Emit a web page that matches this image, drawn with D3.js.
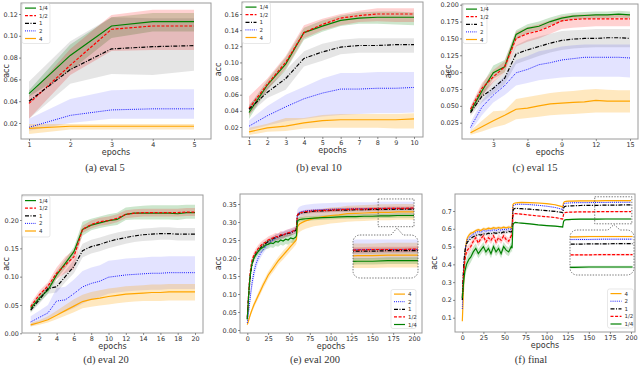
<!DOCTYPE html>
<html>
<head>
<meta charset="utf-8">
<script src="https://cdn.jsdelivr.net/npm/d3@7"></script>
<style>
body { margin: 0; background: #fff; }
svg text { font-family: "DejaVu Sans", sans-serif; fill: #333; }
</style>
</head>
<body>
<script>
// series order everywhere: 1/4, 1/2, 1, 2, 4
const names = ["1/4", "1/2", "1", "2", "4"];
const lineColor = ["#008000", "#ff0000", "#000000", "#0000ff", "#ffa500"];
const bandAlpha = [0.2, 0.18, 0.1, 0.11, 0.25];
const dash = [null, "3,1.6", "4,1.5,1,1.5", "0.9,1.2", null];
const lineWidth = [1.2, 1.2, 1.2, 1.0, 1.2];

// (a) eval 5
const epochsA = [1, 2, 3, 4, 5];
const meanA = [
  [0.047, 0.082, 0.109, 0.113, 0.113],
  [0.038, 0.073, 0.106, 0.109, 0.109],
  [0.040, 0.069, 0.088, 0.090, 0.091],
  [0.016, 0.027, 0.032, 0.033, 0.033],
  [0.015, 0.017, 0.017, 0.017, 0.017]
];
const loA = [
  [0.044, 0.068, 0.098, 0.104, 0.104],
  [0.024, 0.064, 0.086, 0.087, 0.087],
  [0.024, 0.056, 0.065, 0.064, 0.068],
  [0.013, 0.020, 0.024, 0.024, 0.024],
  [0.010, 0.014, 0.014, 0.014, 0.014]
];
const hiA = [
  [0.050, 0.092, 0.117, 0.121, 0.121],
  [0.045, 0.088, 0.119, 0.124, 0.124],
  [0.058, 0.095, 0.117, 0.116, 0.116],
  [0.024, 0.042, 0.050, 0.051, 0.051],
  [0.019, 0.019, 0.019, 0.019, 0.019]
];

// (b) eval 10
const epochsB = [1, 2, 3, 4, 5, 6, 7, 8, 9, 10];
const meanB = [
  [0.038, 0.072, 0.098, 0.137, 0.145, 0.152, 0.155, 0.156, 0.156, 0.156],
  [0.043, 0.073, 0.100, 0.137, 0.147, 0.155, 0.158, 0.160, 0.160, 0.160],
  [0.042, 0.063, 0.080, 0.105, 0.113, 0.119, 0.121, 0.121, 0.122, 0.122],
  [0.021, 0.034, 0.045, 0.055, 0.062, 0.067, 0.067, 0.068, 0.068, 0.069],
  [0.014, 0.019, 0.021, 0.025, 0.028, 0.029, 0.029, 0.029, 0.029, 0.030]
];
const loB = [
  [0.030, 0.066, 0.090, 0.128, 0.138, 0.145, 0.148, 0.148, 0.147, 0.146],
  [0.034, 0.066, 0.092, 0.130, 0.140, 0.146, 0.150, 0.151, 0.150, 0.150],
  [0.036, 0.056, 0.066, 0.095, 0.102, 0.110, 0.112, 0.112, 0.112, 0.112],
  [0.016, 0.022, 0.027, 0.030, 0.033, 0.035, 0.036, 0.037, 0.037, 0.038],
  [0.010, 0.014, 0.015, 0.018, 0.019, 0.019, 0.019, 0.019, 0.018, 0.018]
];
const hiB = [
  [0.046, 0.078, 0.106, 0.143, 0.152, 0.158, 0.162, 0.163, 0.163, 0.162],
  [0.058, 0.080, 0.108, 0.146, 0.154, 0.160, 0.164, 0.167, 0.167, 0.167],
  [0.048, 0.070, 0.090, 0.114, 0.123, 0.128, 0.130, 0.130, 0.130, 0.130],
  [0.028, 0.046, 0.060, 0.070, 0.080, 0.087, 0.087, 0.088, 0.088, 0.088],
  [0.019, 0.024, 0.031, 0.031, 0.035, 0.036, 0.036, 0.036, 0.036, 0.037]
];

// (c) eval 15
const epochsC = [1, 2, 3, 4, 5, 6, 7, 8, 9, 10, 11, 12, 13, 14, 15];
const meanC = [
  [0.042, 0.072, 0.099, 0.108, 0.156, 0.165, 0.168, 0.175, 0.180, 0.183, 0.184, 0.185, 0.185, 0.186, 0.185],
  [0.045, 0.076, 0.093, 0.108, 0.150, 0.157, 0.161, 0.168, 0.176, 0.178, 0.179, 0.179, 0.179, 0.179, 0.179],
  [0.040, 0.064, 0.076, 0.091, 0.127, 0.133, 0.138, 0.143, 0.147, 0.149, 0.150, 0.150, 0.151, 0.151, 0.150],
  [0.018, 0.048, 0.066, 0.080, 0.099, 0.104, 0.111, 0.114, 0.118, 0.120, 0.122, 0.122, 0.122, 0.122, 0.121],
  [0.010, 0.019, 0.028, 0.036, 0.045, 0.0465, 0.050, 0.053, 0.054, 0.055, 0.056, 0.058, 0.057, 0.057, 0.057]
];
const loC = [
  [0.038, 0.064, 0.090, 0.100, 0.148, 0.158, 0.162, 0.169, 0.175, 0.178, 0.179, 0.180, 0.180, 0.181, 0.180],
  [0.038, 0.064, 0.085, 0.100, 0.138, 0.145, 0.150, 0.157, 0.164, 0.166, 0.167, 0.168, 0.168, 0.168, 0.168],
  [0.035, 0.055, 0.068, 0.082, 0.112, 0.118, 0.124, 0.129, 0.133, 0.135, 0.136, 0.137, 0.137, 0.137, 0.137],
  [0.012, 0.036, 0.055, 0.066, 0.080, 0.084, 0.088, 0.090, 0.092, 0.093, 0.093, 0.093, 0.093, 0.093, 0.092],
  [0.007, 0.012, 0.018, 0.022, 0.030, 0.032, 0.034, 0.036, 0.037, 0.038, 0.039, 0.040, 0.040, 0.040, 0.040]
];
const hiC = [
  [0.048, 0.080, 0.110, 0.118, 0.162, 0.171, 0.175, 0.181, 0.186, 0.188, 0.189, 0.190, 0.190, 0.191, 0.190],
  [0.050, 0.084, 0.103, 0.116, 0.160, 0.167, 0.171, 0.177, 0.183, 0.185, 0.186, 0.186, 0.186, 0.186, 0.186],
  [0.045, 0.072, 0.086, 0.100, 0.140, 0.148, 0.153, 0.157, 0.161, 0.162, 0.163, 0.164, 0.164, 0.164, 0.164],
  [0.025, 0.058, 0.078, 0.094, 0.118, 0.124, 0.131, 0.134, 0.138, 0.140, 0.141, 0.141, 0.141, 0.141, 0.141],
  [0.013, 0.028, 0.042, 0.043, 0.060, 0.063, 0.066, 0.069, 0.071, 0.072, 0.074, 0.075, 0.074, 0.073, 0.073]
];

// (d) eval 20
const epochsD = [1, 2, 3, 4, 5, 6, 7, 8, 9, 10, 11, 12, 13, 14, 15, 16, 17, 18, 19, 20];
const meanD = [
  [0.044, 0.062, 0.076, 0.103, 0.1235, 0.144, 0.1835, 0.191, 0.195, 0.199, 0.201, 0.210, 0.212, 0.212, 0.212, 0.212, 0.212, 0.211, 0.213, 0.213],
  [0.047, 0.068, 0.0835, 0.106, 0.1205, 0.135, 0.1835, 0.192, 0.197, 0.199, 0.203, 0.210, 0.212, 0.213, 0.213, 0.213, 0.213, 0.213, 0.214, 0.214],
  [0.041, 0.059, 0.079, 0.082, 0.100, 0.118, 0.146, 0.153, 0.157, 0.162, 0.166, 0.169, 0.172, 0.174, 0.175, 0.176, 0.176, 0.175, 0.175, 0.175],
  [0.020, 0.028, 0.036, 0.057, 0.059, 0.070, 0.082, 0.088, 0.092, 0.099, 0.101, 0.103, 0.104, 0.105, 0.106, 0.106, 0.107, 0.107, 0.107, 0.107],
  [0.015, 0.019, 0.024, 0.032, 0.040, 0.048, 0.056, 0.060, 0.062, 0.065, 0.067, 0.069, 0.070, 0.071, 0.072, 0.072, 0.073, 0.073, 0.073, 0.073]
];
const loD = [
  [0.038, 0.055, 0.070, 0.096, 0.115, 0.135, 0.172, 0.182, 0.186, 0.189, 0.191, 0.200, 0.201, 0.201, 0.201, 0.201, 0.201, 0.200, 0.202, 0.202],
  [0.040, 0.061, 0.077, 0.096, 0.106, 0.113, 0.177, 0.185, 0.190, 0.192, 0.196, 0.203, 0.205, 0.206, 0.206, 0.206, 0.206, 0.206, 0.207, 0.207],
  [0.036, 0.052, 0.070, 0.072, 0.090, 0.106, 0.134, 0.141, 0.145, 0.150, 0.154, 0.158, 0.161, 0.163, 0.164, 0.165, 0.165, 0.164, 0.164, 0.164],
  [0.012, 0.018, 0.024, 0.034, 0.038, 0.044, 0.052, 0.060, 0.064, 0.070, 0.072, 0.074, 0.075, 0.076, 0.077, 0.077, 0.078, 0.078, 0.078, 0.078],
  [0.012, 0.015, 0.019, 0.025, 0.031, 0.037, 0.044, 0.047, 0.049, 0.051, 0.053, 0.055, 0.056, 0.057, 0.057, 0.057, 0.058, 0.058, 0.058, 0.058]
];
const hiD = [
  [0.050, 0.070, 0.083, 0.110, 0.131, 0.152, 0.197, 0.202, 0.206, 0.210, 0.213, 0.222, 0.224, 0.225, 0.226, 0.226, 0.226, 0.226, 0.227, 0.227],
  [0.053, 0.075, 0.090, 0.116, 0.135, 0.147, 0.190, 0.199, 0.204, 0.206, 0.210, 0.217, 0.219, 0.220, 0.220, 0.220, 0.220, 0.220, 0.221, 0.221],
  [0.046, 0.066, 0.088, 0.092, 0.110, 0.130, 0.158, 0.165, 0.169, 0.174, 0.178, 0.181, 0.183, 0.185, 0.186, 0.187, 0.187, 0.186, 0.186, 0.186],
  [0.030, 0.040, 0.050, 0.080, 0.082, 0.095, 0.110, 0.116, 0.120, 0.128, 0.130, 0.132, 0.133, 0.134, 0.135, 0.135, 0.136, 0.136, 0.136, 0.136],
  [0.018, 0.023, 0.030, 0.040, 0.050, 0.060, 0.068, 0.073, 0.076, 0.079, 0.081, 0.083, 0.084, 0.085, 0.086, 0.086, 0.087, 0.087, 0.087, 0.087]
];

// (e) eval 200 : mean and half-width of the band
const epochsE = [0, 1, 2, 3, 4, 5, 6, 8, 10, 13, 16, 19, 22, 25, 28, 31, 34, 37, 40, 43, 46, 49, 52, 55, 58,
  59, 60, 61, 63, 66, 70, 80, 90, 100, 110, 120, 130, 140, 150, 160, 170, 180, 190, 200];
const meanE = [
  [0.030, 0.070, 0.110, 0.140, 0.160, 0.175, 0.188, 0.200, 0.208,
   0.218, 0.226, 0.230, 0.236, 0.238, 0.242, 0.240, 0.246, 0.244, 0.250, 0.247, 0.252, 0.250, 0.256, 0.253, 0.258,
   0.262, 0.300, 0.305, 0.307, 0.308, 0.309,
   0.311, 0.312, 0.313, 0.314, 0.315, 0.315, 0.316, 0.316, 0.317, 0.317, 0.318, 0.318, 0.318],
  [0.035, 0.080, 0.120, 0.150, 0.170, 0.185, 0.196, 0.208, 0.216,
   0.226, 0.234, 0.240, 0.244, 0.250, 0.253, 0.256, 0.260, 0.258, 0.265, 0.263, 0.268, 0.270, 0.272, 0.275, 0.278,
   0.285, 0.318, 0.322, 0.325, 0.327, 0.329,
   0.331, 0.332, 0.333, 0.334, 0.335, 0.336, 0.336, 0.337, 0.337, 0.338, 0.338, 0.338, 0.339],
  [0.030, 0.075, 0.105, 0.135, 0.158, 0.172, 0.185, 0.200, 0.210,
   0.220, 0.228, 0.235, 0.240, 0.246, 0.250, 0.254, 0.257, 0.260, 0.262, 0.264, 0.266, 0.268, 0.270, 0.273, 0.276,
   0.282, 0.317, 0.321, 0.323, 0.325, 0.327,
   0.330, 0.331, 0.332, 0.333, 0.333, 0.334, 0.334, 0.335, 0.335, 0.335, 0.336, 0.336, 0.336],
  [0.020, 0.040, 0.060, 0.080, 0.100, 0.118, 0.135, 0.160, 0.180,
   0.200, 0.213, 0.223, 0.232, 0.240, 0.246, 0.250, 0.255, 0.258, 0.262, 0.265, 0.267, 0.270, 0.272, 0.275, 0.278,
   0.283, 0.320, 0.324, 0.327, 0.329, 0.331,
   0.333, 0.334, 0.335, 0.336, 0.336, 0.337, 0.337, 0.337, 0.338, 0.338, 0.338, 0.338, 0.338],
  [0.015, 0.022, 0.030, 0.038, 0.045, 0.052, 0.058, 0.070, 0.080,
   0.095, 0.110, 0.125, 0.138, 0.152, 0.162, 0.172, 0.182, 0.192, 0.200, 0.208, 0.216, 0.224, 0.232, 0.240, 0.248,
   0.252, 0.285, 0.290, 0.295, 0.299, 0.303,
   0.310, 0.314, 0.318, 0.320, 0.323, 0.324, 0.325, 0.326, 0.327, 0.327, 0.328, 0.328, 0.328]
];
const spreadE = [
  [0.004, 0.008, 0.010, 0.010, 0.010, 0.010, 0.010, 0.010, 0.010,
   0.010, 0.011, 0.011, 0.012, 0.012, 0.012, 0.012, 0.013, 0.013, 0.013, 0.013, 0.013, 0.013, 0.013, 0.013, 0.013,
   0.013, 0.008, 0.007, 0.006, 0.006, 0.006,
   0.006, 0.006, 0.006, 0.006, 0.006, 0.006, 0.006, 0.006, 0.006, 0.006, 0.006, 0.006, 0.006],
  [0.004, 0.008, 0.010, 0.010, 0.010, 0.010, 0.010, 0.010, 0.010,
   0.010, 0.010, 0.010, 0.010, 0.010, 0.010, 0.010, 0.010, 0.010, 0.010, 0.010, 0.010, 0.010, 0.010, 0.010, 0.010,
   0.010, 0.006, 0.005, 0.005, 0.005, 0.005,
   0.005, 0.005, 0.005, 0.005, 0.005, 0.005, 0.005, 0.005, 0.005, 0.005, 0.005, 0.005, 0.005],
  [0.004, 0.006, 0.008, 0.008, 0.008, 0.008, 0.008, 0.008, 0.008,
   0.008, 0.008, 0.008, 0.008, 0.008, 0.008, 0.008, 0.008, 0.008, 0.008, 0.008, 0.008, 0.008, 0.008, 0.008, 0.008,
   0.008, 0.005, 0.005, 0.005, 0.005, 0.005,
   0.005, 0.005, 0.005, 0.005, 0.005, 0.005, 0.005, 0.005, 0.005, 0.005, 0.005, 0.005, 0.005],
  [0.004, 0.010, 0.014, 0.016, 0.018, 0.018, 0.018, 0.018, 0.016,
   0.014, 0.012, 0.011, 0.010, 0.010, 0.010, 0.010, 0.010, 0.010, 0.010, 0.010, 0.010, 0.010, 0.010, 0.010, 0.010,
   0.010, 0.014, 0.015, 0.016, 0.017, 0.017,
   0.018, 0.018, 0.018, 0.018, 0.018, 0.018, 0.018, 0.018, 0.018, 0.018, 0.018, 0.018, 0.018],
  [0.003, 0.004, 0.005, 0.005, 0.006, 0.006, 0.007, 0.008, 0.008,
   0.009, 0.010, 0.010, 0.010, 0.010, 0.010, 0.011, 0.011, 0.011, 0.011, 0.012, 0.012, 0.012, 0.012, 0.012, 0.012,
   0.012, 0.020, 0.022, 0.022, 0.022, 0.022,
   0.022, 0.022, 0.022, 0.022, 0.022, 0.022, 0.022, 0.022, 0.022, 0.022, 0.022, 0.022, 0.022]
];

// (f) final
const epochsF = [0, 1, 2, 3, 4, 5, 6, 8, 10, 13, 16, 19, 22, 25, 28, 31, 34, 37, 40, 43, 46, 49, 52, 55, 58,
  59, 60, 61, 63, 66, 70, 80, 90, 100, 110, 118, 119, 120, 121, 123, 126, 130, 140, 150, 160, 170, 180, 190, 200];
const meanF = [
  [0.21, 0.27, 0.32, 0.36, 0.38, 0.40, 0.41, 0.43, 0.44,
   0.47, 0.49, 0.46, 0.48, 0.50, 0.47, 0.49, 0.46, 0.50, 0.47, 0.49, 0.46, 0.50, 0.48, 0.47, 0.50,
   0.49, 0.62, 0.632, 0.636, 0.634, 0.632,
   0.628, 0.622, 0.618, 0.615, 0.611, 0.61,
   0.64, 0.648, 0.651, 0.652, 0.653,
   0.654, 0.654, 0.654, 0.655, 0.655, 0.655, 0.655],
  [0.22, 0.32, 0.38, 0.42, 0.45, 0.47, 0.48, 0.49, 0.50,
   0.53, 0.55, 0.52, 0.545, 0.56, 0.525, 0.55, 0.535, 0.56, 0.525, 0.55, 0.535, 0.56, 0.54, 0.53, 0.56,
   0.555, 0.672, 0.684, 0.686, 0.684, 0.682,
   0.677, 0.672, 0.668, 0.663, 0.656, 0.655,
   0.68, 0.69, 0.692, 0.693, 0.694,
   0.695, 0.695, 0.696, 0.696, 0.697, 0.697, 0.697],
  [0.20, 0.33, 0.42, 0.47, 0.50, 0.515, 0.525, 0.535, 0.545,
   0.555, 0.562, 0.568, 0.565, 0.572, 0.569, 0.575, 0.571, 0.578, 0.574, 0.58, 0.576, 0.582, 0.579, 0.585, 0.582,
   0.59, 0.70, 0.712, 0.715, 0.714, 0.713,
   0.71, 0.706, 0.702, 0.698, 0.692, 0.69,
   0.715, 0.724, 0.727, 0.728, 0.729,
   0.731, 0.732, 0.732, 0.733, 0.733, 0.734, 0.734],
  [0.15, 0.30, 0.40, 0.46, 0.50, 0.52, 0.54, 0.55, 0.56,
   0.57, 0.578, 0.585, 0.58, 0.59, 0.586, 0.592, 0.588, 0.595, 0.59, 0.596, 0.592, 0.598, 0.594, 0.60, 0.597,
   0.60, 0.722, 0.732, 0.736, 0.738, 0.738,
   0.736, 0.732, 0.727, 0.72, 0.71, 0.705,
   0.735, 0.742, 0.744, 0.745, 0.746,
   0.747, 0.747, 0.748, 0.748, 0.749, 0.749, 0.749],
  [0.08, 0.20, 0.35, 0.44, 0.50, 0.53, 0.55, 0.565, 0.575,
   0.58, 0.59, 0.595, 0.59, 0.60, 0.597, 0.603, 0.60, 0.606, 0.602, 0.607, 0.604, 0.609, 0.605, 0.61, 0.607,
   0.61, 0.735, 0.742, 0.745, 0.747, 0.748,
   0.747, 0.745, 0.741, 0.735, 0.725, 0.72,
   0.745, 0.752, 0.754, 0.755, 0.756,
   0.757, 0.757, 0.757, 0.758, 0.758, 0.758, 0.758]
];
const spreadF = [
  [0.01, 0.03, 0.04, 0.04, 0.035, 0.035, 0.035, 0.035, 0.03,
   0.03, 0.028, 0.026, 0.025, 0.025, 0.025, 0.025, 0.025, 0.025, 0.025, 0.025, 0.025, 0.025, 0.025, 0.025, 0.025,
   0.025, 0.005, 0.004, 0.004, 0.004, 0.004,
   0.004, 0.004, 0.004, 0.004, 0.004, 0.004,
   0.004, 0.004, 0.004, 0.004, 0.004,
   0.004, 0.004, 0.004, 0.004, 0.004, 0.004, 0.004],
  [0.01, 0.025, 0.03, 0.03, 0.025, 0.025, 0.025, 0.025, 0.025,
   0.02, 0.02, 0.02, 0.02, 0.02, 0.02, 0.02, 0.02, 0.02, 0.02, 0.02, 0.02, 0.02, 0.02, 0.02, 0.02,
   0.02, 0.004, 0.004, 0.004, 0.004, 0.004,
   0.003, 0.003, 0.003, 0.003, 0.003, 0.003,
   0.003, 0.003, 0.003, 0.003, 0.003,
   0.003, 0.003, 0.003, 0.003, 0.003, 0.003, 0.003],
  [0.01, 0.02, 0.02, 0.015, 0.012, 0.01, 0.01, 0.01, 0.01,
   0.01, 0.01, 0.01, 0.01, 0.01, 0.01, 0.01, 0.01, 0.01, 0.01, 0.01, 0.01, 0.01, 0.01, 0.01, 0.01,
   0.01, 0.004, 0.003, 0.003, 0.003, 0.003,
   0.003, 0.003, 0.003, 0.003, 0.003, 0.003,
   0.003, 0.003, 0.003, 0.003, 0.003,
   0.003, 0.003, 0.003, 0.003, 0.003, 0.003, 0.003],
  [0.01, 0.02, 0.02, 0.015, 0.012, 0.01, 0.01, 0.01, 0.01,
   0.01, 0.01, 0.01, 0.01, 0.01, 0.01, 0.01, 0.01, 0.01, 0.01, 0.01, 0.01, 0.01, 0.01, 0.01, 0.01,
   0.01, 0.004, 0.003, 0.003, 0.003, 0.003,
   0.003, 0.003, 0.003, 0.003, 0.003, 0.003,
   0.003, 0.003, 0.003, 0.003, 0.003,
   0.003, 0.003, 0.003, 0.003, 0.003, 0.003, 0.003],
  [0.01, 0.02, 0.02, 0.015, 0.012, 0.01, 0.01, 0.01, 0.01,
   0.008, 0.008, 0.008, 0.008, 0.008, 0.008, 0.008, 0.008, 0.008, 0.008, 0.008, 0.008, 0.008, 0.008, 0.008, 0.008,
   0.008, 0.004, 0.003, 0.003, 0.003, 0.003,
   0.003, 0.003, 0.003, 0.003, 0.003, 0.003,
   0.003, 0.003, 0.003, 0.003, 0.003,
   0.003, 0.003, 0.003, 0.003, 0.003, 0.003, 0.003]
];

// tick values
const xTicksA = [1, 2, 3, 4, 5];
const yTicksA = [0.02, 0.04, 0.06, 0.08, 0.10, 0.12];
const xTicksB = [1, 2, 3, 4, 5, 6, 7, 8, 9, 10];
const yTicksB = [0.02, 0.04, 0.06, 0.08, 0.10, 0.12, 0.14, 0.16];
const xTicksC = [3, 6, 9, 12, 15];
const yTicksC = [0.025, 0.050, 0.075, 0.100, 0.125, 0.150, 0.175, 0.200];
const xTicksD = [2, 4, 6, 8, 10, 12, 14, 16, 18, 20];
const yTicksD = [0.00, 0.05, 0.10, 0.15, 0.20];
const xTicksE = [0, 25, 50, 75, 100, 125, 150, 175, 200];
const yTicksE = [0.00, 0.05, 0.10, 0.15, 0.20, 0.25, 0.30, 0.35];
const yTicksF = [0.1, 0.2, 0.3, 0.4, 0.5, 0.6, 0.7];

const svg = d3.select("body").append("svg")
    .attr("width", 640)
    .attr("height", 366);

function withBand(mean, spread, sign) {
  return mean.map((m, i) => m.map((v, j) => v + sign * spread[i][j]));
}

function drawSeries(g, x, y, ep, mean, lo, hi, order) {
  order.forEach(i => {
    const area = d3.area()
        .x((d, j) => x(ep[j]))
        .y0((d, j) => y(lo[i][j]))
        .y1((d, j) => y(hi[i][j]));
    g.append("path").datum(mean[i])
        .attr("d", area)
        .attr("fill", lineColor[i])
        .attr("fill-opacity", bandAlpha[i]);
  });
  order.forEach(i => {
    const line = d3.line().x((d, j) => x(ep[j])).y(d => y(d));
    g.append("path").datum(mean[i])
        .attr("d", line)
        .attr("fill", "none")
        .attr("stroke", lineColor[i])
        .attr("stroke-width", lineWidth[i])
        .attr("stroke-dasharray", dash[i]);
  });
}

function styleAxis(sel) {
  sel.attr("font-family", "DejaVu Sans").attr("font-size", 6.4);
  sel.select(".domain").remove();
  sel.selectAll(".tick line").attr("stroke", "#444").attr("stroke-width", 0.6);
  sel.selectAll(".tick text").attr("fill", "#333");
}

function callout(x0, y0, x1, y1, r, tx, ty) {
  const p = d3.path();
  p.moveTo(x0 + r, y0);
  p.lineTo(tx - 6, y0);
  p.lineTo(tx, ty);
  p.lineTo(tx + 6, y0);
  p.lineTo(x1 - r, y0);
  p.arcTo(x1, y0, x1, y0 + r, r);
  p.lineTo(x1, y1 - r);
  p.arcTo(x1, y1, x1 - r, y1, r);
  p.lineTo(x0 + r, y1);
  p.arcTo(x0, y1, x0, y1 - r, r);
  p.lineTo(x0, y0 + r);
  p.arcTo(x0, y0, x0 + r, y0, r);
  p.closePath();
  return p.toString();
}

function drawPanel(p) {
  const x = d3.scaleLinear().domain(p.xd).range(p.xr);
  const y = d3.scaleLinear().domain(p.yd).range(p.yr);
  const [fx0, fy0, fx1, fy1] = p.frame;
  const g = svg.append("g");

  svg.append("clipPath").attr("id", "clip" + p.id)
    .append("rect").attr("x", fx0).attr("y", fy0)
    .attr("width", fx1 - fx0).attr("height", fy1 - fy0);

  const plot = g.append("g").attr("clip-path", `url(#clip${p.id})`);
  drawSeries(plot, x, y, p.ep, p.mean, p.lo, p.hi, p.order);

  g.append("rect")
      .attr("x", fx0).attr("y", fy0)
      .attr("width", fx1 - fx0).attr("height", fy1 - fy0)
      .attr("fill", "none").attr("stroke", "#9a9a9a").attr("stroke-width", 1);

  g.append("g").attr("transform", `translate(0,${fy1})`)
      .call(d3.axisBottom(x).tickValues(p.xt).tickSize(2).tickPadding(1.5).tickFormat(d3.format("d")))
      .call(styleAxis);
  g.append("g").attr("transform", `translate(${fx0},0)`)
      .call(d3.axisLeft(y).tickValues(p.yt).tickSize(2).tickPadding(1.2).tickFormat(d3.format(p.yf)))
      .call(styleAxis);

  g.append("text")
      .attr("x", (fx0 + fx1) / 2).attr("y", fy1 + 16)
      .attr("text-anchor", "middle").attr("font-size", 8)
      .text("epochs");
  g.append("text")
      .attr("transform", `translate(${p.accX},${(fy0 + fy1) / 2}) rotate(-90)`)
      .attr("text-anchor", "middle").attr("font-size", 8)
      .text("acc");

  g.append("text")
      .attr("x", p.cap[0]).attr("y", p.cap[1])
      .attr("text-anchor", "middle")
      .style("font-family", "'Liberation Serif', serif")
      .attr("font-size", 10.5).attr("fill", "#111")
      .text(p.caption);

  if (p.inset) {
    const s = p.inset;
    g.append("rect")
        .attr("x", x(s.xd[0])).attr("y", y(s.yd[0]))
        .attr("width", x(s.xd[1]) - x(s.xd[0])).attr("height", y(s.yd[1]) - y(s.yd[0]))
        .attr("fill", "none").attr("stroke", "#555").attr("stroke-width", 0.8)
        .attr("stroke-dasharray", "1.4,1.4");
    const [ix0, iy0, ix1, iy1] = s.box;
    const shape = callout(ix0, iy0, ix1, iy1, 7, s.tip[0], s.tip[1]);
    svg.append("clipPath").attr("id", "inset" + p.id)
      .append("path").attr("d", shape);
    g.append("path").attr("d", shape).attr("fill", "#fff");
    const xi = d3.scaleLinear().domain(s.xd).range([ix0, ix1]);
    const yi = d3.scaleLinear().domain(s.yd).range([iy0, iy1]);
    const ig = g.append("g").attr("clip-path", `url(#inset${p.id})`);
    drawSeries(ig, xi, yi, p.ep, p.mean, p.lo, p.hi, p.order);
    g.append("path").attr("d", shape)
        .attr("fill", "none").attr("stroke", "#555").attr("stroke-width", 0.8)
        .attr("stroke-dasharray", "1.4,1.4");
  }

  // legend
  const L = p.legend;
  const lg = g.append("g");
  lg.append("rect")
      .attr("x", L.x).attr("y", L.y).attr("width", L.w).attr("height", L.h)
      .attr("rx", 2).attr("fill", "#fff").attr("fill-opacity", 0.85)
      .attr("stroke", "#d8d8d8").attr("stroke-width", 0.6);
  p.legendOrder.forEach((i, k) => {
    const yy = L.y + 4.6 + k * 7.6;
    lg.append("line")
        .attr("x1", L.x + 3).attr("x2", L.x + 14).attr("y1", yy).attr("y2", yy)
        .attr("stroke", lineColor[i]).attr("stroke-width", lineWidth[i])
        .attr("stroke-dasharray", dash[i]);
    lg.append("text")
        .attr("x", L.x + 17).attr("y", yy + 2)
        .attr("font-size", 5.5)
        .text(names[i]);
  });
}

const fwd = [0, 1, 2, 3, 4];
const rev = [4, 3, 2, 1, 0];

const panels = [
  { id: "a", ep: epochsA, mean: meanA, lo: loA, hi: hiA, order: fwd, legendOrder: fwd,
    frame: [21, 3, 211, 139], xd: [1, 5], xr: [29, 194], yd: [0.02, 0.12], yr: [123, 14],
    xt: xTicksA, yt: yTicksA, yf: ".2f", accX: 9, caption: "(a) eval 5", cap: [105, 171],
    legend: { x: 22, y: 3.5, w: 28, h: 40 } },
  { id: "b", ep: epochsB, mean: meanB, lo: loB, hi: hiB, order: fwd, legendOrder: fwd,
    frame: [242, 2, 423, 137], xd: [1, 10], xr: [249, 414], yd: [0.02, 0.16], yr: [127, 14],
    xt: xTicksB, yt: yTicksB, yf: ".2f", accX: 221, caption: "(b) eval 10", cap: [319, 171],
    legend: { x: 242.5, y: 2.5, w: 28, h: 41 } },
  { id: "c", ep: epochsC, mean: meanC, lo: loC, hi: hiC, order: fwd, legendOrder: fwd,
    frame: [462, 4, 638, 139], xd: [3, 15], xr: [493.3, 630], yd: [0.025, 0.2], yr: [122.7, 4.7],
    xt: xTicksC, yt: yTicksC, yf: ".3f", accX: 451, caption: "(c) eval 15", cap: [535, 171],
    legend: { x: 463, y: 4.5, w: 24, h: 39 } },
  { id: "d", ep: epochsD, mean: meanD, lo: loD, hi: hiD, order: fwd, legendOrder: fwd,
    frame: [22, 195, 203, 333], xd: [2, 20], xr: [39.3, 195], yd: [0, 0.2], yr: [333.3, 220],
    xt: xTicksD, yt: yTicksD, yf: ".2f", accX: 9, caption: "(d) eval 20", cap: [106, 363],
    legend: { x: 22, y: 196, w: 28, h: 41 } },
  { id: "e", ep: epochsE, mean: meanE, lo: withBand(meanE, spreadE, -1), hi: withBand(meanE, spreadE, 1),
    order: rev, legendOrder: rev,
    frame: [240, 194, 422, 333], xd: [0, 200], xr: [247.3, 414], yd: [0, 0.35], yr: [330, 204],
    xt: xTicksE, yt: yTicksE, yf: ".2f", accX: 221, caption: "(e) eval 200", cap: [315, 363],
    legend: { x: 391, y: 289.5, w: 25, h: 39 },
    inset: { xd: [157, 200], yd: [0.364, 0.287], box: [353, 235, 418, 278], tip: [397, 228] } },
  { id: "f", ep: epochsF, mean: meanF, lo: withBand(meanF, spreadF, -1), hi: withBand(meanF, spreadF, 1),
    order: rev, legendOrder: rev,
    frame: [455, 194, 635, 332], xd: [0, 200], xr: [462.3, 631], yd: [0.1, 0.7], yr: [317.7, 211],
    xt: xTicksE, yt: yTicksF, yf: ".1f", accX: 437, caption: "(f) final", cap: [531, 363],
    legend: { x: 607.5, y: 289, w: 26, h: 39 },
    inset: { xd: [157, 201], yd: [0.78, 0.628], box: [570, 230, 634, 275], tip: [614, 224.5] } }
];

panels.forEach(drawPanel);
</script>
</body>
</html>
